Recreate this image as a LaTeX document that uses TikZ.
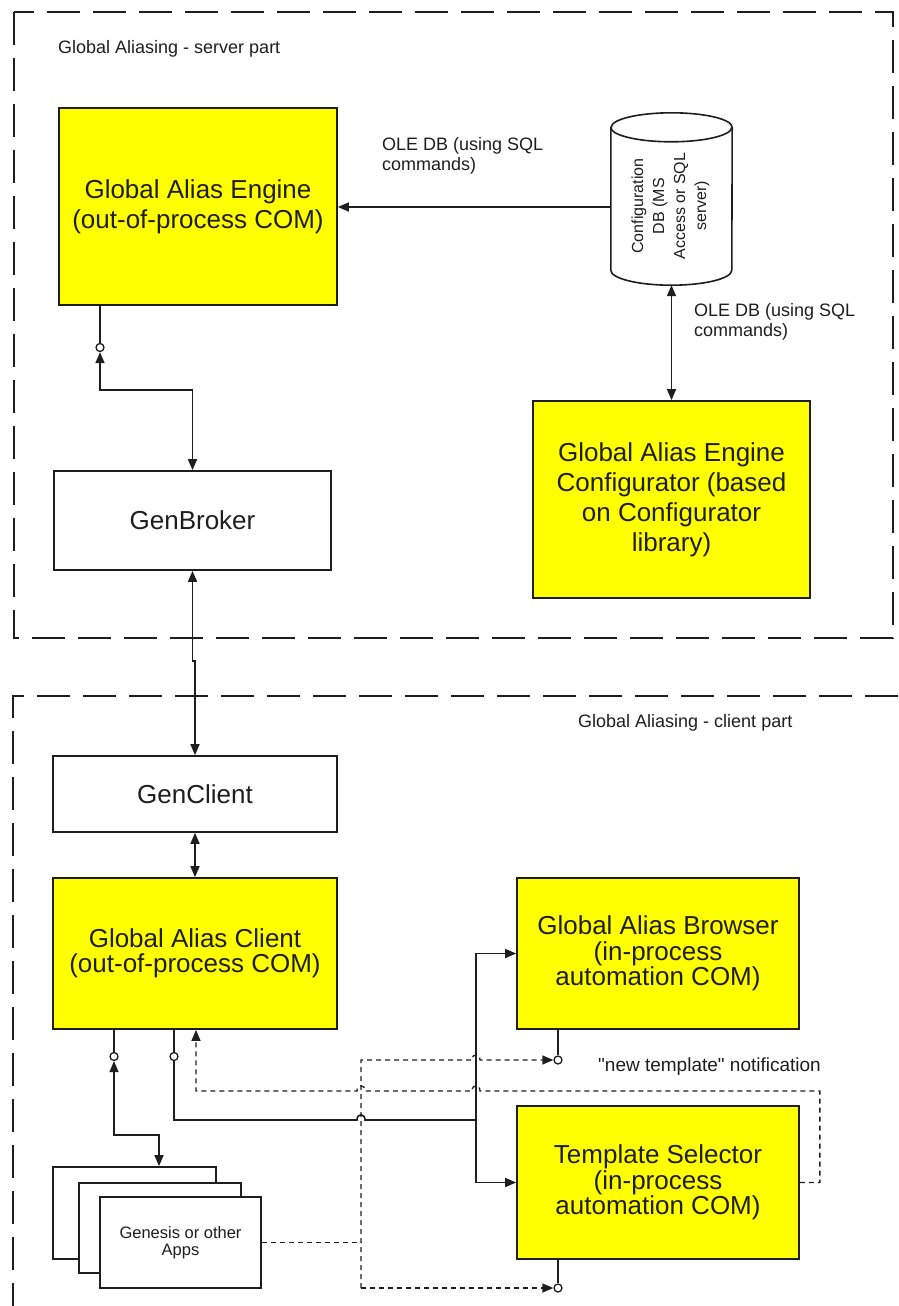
\documentclass[tikz,border=0pt]{standalone}
\usepackage{fontspec}
\setmainfont{Liberation Sans}[Ligatures=TeXOff]
\usetikzlibrary{arrows.meta}

\definecolor{boxyellow}{RGB}{255,255,0}
\definecolor{ink}{RGB}{30,30,30}

\newcommand{\diagbig}{\fontsize{26}{30}\selectfont}
\newcommand{\diagbigtight}{\fontsize{26}{25.5}\selectfont}
\newcommand{\diagsmall}{\fontsize{18}{20}\selectfont}
\newcommand{\diagdb}{\fontsize{16}{21}\selectfont}
\newcommand{\diagapps}{\fontsize{16.5}{17}\selectfont}

\begin{document}
\begin{tikzpicture}[x=1pt,y=-1pt,
  box/.style={draw=ink, line width=1.7pt, inner sep=0pt, align=center, text=ink},
  ybox/.style={box, fill=boxyellow, font=\diagbig},
  wbox/.style={box, fill=white, font=\diagbig},
  conn/.style={draw=ink, line width=1.6pt},
  dconn/.style={draw=ink, line width=1.3pt, dash pattern=on 5pt off 4pt},
  region/.style={draw=ink, line width=1.9pt, dash pattern=on 33pt off 13pt},
  arr/.style={-{Triangle[length=11pt,width=9pt]}},
  dual/.style={{Triangle[length=11pt,width=9pt]}-{Triangle[length=11pt,width=9pt]}},
  lolli/.style={circle, draw=ink, fill=white, line width=1.3pt, inner sep=0pt, minimum size=8pt},
  lbl/.style={font=\diagsmall, text=ink, inner sep=0pt, align=left}
]
\useasboundingbox (0,0) rectangle (898,1306);

% ---------- regions ----------
\draw[region] (14,12) rectangle (893,638);
\draw[region] (898,696) -- (13,696) -- (13,1306);
\node[lbl, anchor=west] (stitle) at (58,49) {Global Aliasing - server part};
\node[lbl, anchor=west] (ctitle) at (578,723) {Global Aliasing - client part};

% ---------- server part ----------
\node[ybox, minimum width=278pt, minimum height=197pt] (engine) at (198,206.5)
  {Global Alias Engine\\(out-of-process COM)};
\node[wbox, minimum width=277pt, minimum height=99pt] (gb) at (192.5,520.5) {GenBroker};
\node[ybox, minimum width=277pt, minimum height=197pt] (cfg) at (671.5,499.5)
  {Global Alias Engine\\Configurator (based\\on Configurator\\library)};

% configuration database drawn as a cylinder
\node[minimum width=121pt, minimum height=172pt, inner sep=0pt] (db) at (671.5,199) {};
\draw[conn, fill=white] ([yshift=-14.5pt]db.north west) -- ([yshift=15pt]db.south west)
  arc[start angle=180, end angle=360, x radius=60.5pt, y radius=15pt]
  -- ([yshift=-14.5pt]db.north east)
  arc[start angle=0, end angle=180, x radius=60.5pt, y radius=14.5pt] -- cycle;
\draw[conn] ([yshift=-14.5pt]db.north west)
  arc[start angle=180, end angle=360, x radius=60.5pt, y radius=14.5pt];
\node[rotate=90, font=\diagdb, align=center, text=ink, inner sep=0pt] (dbtext)
  at ([yshift=-7pt,xshift=-1pt]db.center) {Configuration\\DB (MS\\Access or SQL\\server)};

\coordinate (dbw) at ([yshift=-8pt]db.west);
\draw[conn, arr] (dbw) -- (dbw -| engine.east);
\node[lbl, anchor=west] (ole1) at (382,156) {OLE DB (using SQL\\commands)};

\draw[conn, dual] (db.south) -- (cfg.north);
\node[lbl, anchor=west] (ole2) at (694,322) {OLE DB (using SQL\\commands)};

\node[lolli] (c1) at (100,347.5) {};
\draw[conn] (c1 |- engine.south) -- (c1.north);
\draw[conn, dual] (c1.south) -- (c1.south |- 0,390) -| (gb.north);

% ---------- client part ----------
\node[wbox, minimum width=284pt, minimum height=76pt] (gc) at (195,794) {GenClient};
\node[ybox, minimum width=284pt, minimum height=151pt, font=\diagbigtight] (cl) at (195,953.5)
  {Global Alias Client\\(out-of-process COM)};
\node[ybox, minimum width=282pt, minimum height=151pt, font=\diagbigtight] (br) at (658,953.5)
  {Global Alias Browser\\(in-process\\automation COM)};
\node[ybox, minimum width=282pt, minimum height=153pt, font=\diagbigtight] (ts) at (658,1182.5)
  {Template Selector\\(in-process\\automation COM)};

% stack of application windows
\node[box, fill=white, minimum width=163pt, minimum height=92pt] (ab) at (134.5,1213) {};
\node[box, fill=white, minimum width=162pt, minimum height=90pt] (am) at (160,1228) {};
\node[box, fill=white, minimum width=161pt, minimum height=91pt, font=\diagapps] (af) at (180.5,1242.5)
  {Genesis or other\\Apps};

\draw[conn, dual] (gb.south) -- ++(0,90) -| (gc.north);
\draw[conn, dual] (gc.south) -- (cl.north);

% interface towards the applications
\node[lolli] (c2) at (114,1056.5) {};
\draw[conn] (c2 |- cl.south) -- (c2.north);
\draw[conn, dual] (c2.south) -- (c2.south |- 0,1135) -| ([xshift=24.5pt]ab.north);

% interface towards browser and selector
\node[lolli] (c3) at (174,1056.5) {};
\draw[conn] (c3 |- cl.south) -- (c3.north);
\coordinate (fork) at (476,1120);
\draw[conn] (c3.south) -- (c3.south |- fork) -- (357,1120)
  .. controls (357,1113) and (365,1113) .. (365,1120) -- (fork);
\draw[conn, arr] (fork) |- (br.west);
\draw[conn, arr] (fork) |- (ts.west);

% lollipops under browser and selector
\node[lolli] (c4) at (558,1060) {};
\draw[conn] (c4 |- br.south) -- (c4.north);
\node[lolli] (c5) at (558,1288) {};
\draw[conn] (c5 |- ts.south) -- (c5.north);

% dashed links from the applications
\coordinate (dtop) at (361,1060);
\coordinate (dbot) at (361,1288);
\draw[dconn] (af.east) -- (af.east -| dtop);
\draw[dconn, arr] (dbot) -- (dtop) -- (472,1060)
  .. controls (472,1053) and (480,1053) .. (480,1060) -- (c4.west);
\draw[dconn, arr] (dbot) -- (c5.west);

% "new template" notification back to the client
\draw[dconn, arr] (ts.east) -- ++(20,0) |- (480,1091)
  .. controls (480,1084) and (472,1084) .. (472,1091) -- (365,1091)
  .. controls (365,1084) and (357,1084) .. (357,1091)
  -- ([xshift=1pt]cl.south |- 0,1091) -- ([xshift=1pt]cl.south);
\node[lbl, anchor=west, font=\fontsize{19}{20}\selectfont] (notif) at (598,1067) {"new template" notification};

\end{tikzpicture}
\end{document}
